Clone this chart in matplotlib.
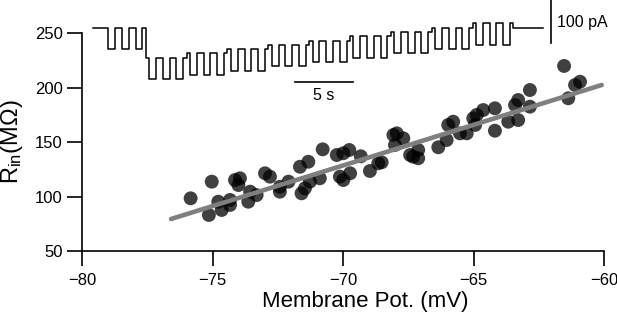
import numpy as np
import matplotlib
matplotlib.use("Agg")
import matplotlib.pyplot as plt

plt.rcParams['font.family'] = ['Liberation Sans', 'DejaVu Sans']
plt.rcParams['mathtext.fontset'] = 'custom'
plt.rcParams['mathtext.rm'] = 'Liberation Sans'
plt.rcParams['mathtext.it'] = 'Liberation Sans:italic'

# scatter: membrane potential (mV) vs input resistance (MOhm)
vm = [-75.85, -75.04, -75.15, -74.79, -74.66, -74.34, -74.34, -74.15, -73.96, -74.02,
      -73.64, -73.57, -73.32, -73.00, -72.81, -72.43, -72.43, -72.10, -71.66, -71.34,
      -71.60, -71.47, -71.28, -70.90, -70.79, -70.25, -70.00, -69.77, -70.13, -70.00,
      -69.74, -69.33, -68.98, -68.66, -68.53, -68.08, -67.95, -67.70, -68.02, -67.32,
      -67.13, -67.13, -67.44, -66.36, -66.04, -65.98, -65.79, -65.53, -65.27, -65.02,
      -64.95, -64.64, -64.89, -64.19, -64.19, -63.68, -63.42, -63.30, -63.30, -62.85,
      -62.85, -61.54, -61.38, -61.12, -60.93]
rin = [98.4, 113.7, 83.1, 95.3, 87.7, 96.9, 92.3, 115.2, 116.8, 110.6,
       95.3, 104.5, 101.4, 121.4, 118.3, 104.5, 109.0, 113.7, 127.4, 132.0,
       103.0, 107.6, 113.7, 116.8, 143.4, 138.2, 139.8, 142.8, 118.3, 115.2,
       121.4, 137.0, 123.5, 130.6, 131.5, 156.6, 158.1, 153.5, 147.4, 136.6,
       142.8, 135.2, 138.2, 145.3, 152.0, 165.8, 168.8, 158.1, 158.1, 171.9,
       165.8, 179.5, 175.0, 181.1, 160.5, 168.8, 184.1, 188.7, 170.3, 197.9,
       182.6, 220.0, 190.3, 202.5, 205.5]

# linear fit line end points
fit_x = [-76.6, -60.1]
fit_y = [79.4, 202.5]

# current injection protocol (pA): holding level per block, hyperpolarizing pulses
block_levels = [0, -70, -60, -50, -40, -30, -20, -10, 0, 10]
pulse_amp = -50
lead_s, block_s, tail_s = 1.0, 3.5, 2.5

fig = plt.figure(figsize=(6.17, 3.23), dpi=100)
ax = fig.add_axes([0.1334, 0.2229, 0.846, 0.674])

ax.scatter(vm, rin, s=100, color='black', alpha=0.75, edgecolors='none', zorder=2)
ax.plot(fit_x, fit_y, color='#7f7f7f', lw=3.3, solid_capstyle='round', zorder=3)

ax.set_xlim(-80, -60)
ax.set_ylim(50, 250)
ax.set_xticks([-80, -75, -70, -65, -60])
ax.set_yticks([50, 100, 150, 200, 250])
ax.set_xticklabels(['\u221280', '\u221275', '\u221270', '\u221265', '\u221260'])
for s in ['top', 'right']:
    ax.spines[s].set_visible(False)
for s in ['left', 'bottom']:
    ax.spines[s].set_linewidth(1.2)
ax.tick_params(direction='out', length=11, width=1.2, labelsize=12, pad=3)
ax.tick_params(axis='x', pad=5)
ax.set_xlabel('Membrane Pot. (mV)', fontsize=16, va='center')
ax.xaxis.set_label_coords(0.5416, -0.234)
ax.set_ylabel(r'R$_{\mathrm{in}}$(M$\Omega$)', fontsize=17, va='center')
ax.yaxis.set_label_coords(-0.135, 0.5)

# protocol trace inset
tax = fig.add_axes([80 / 617, 1 - 100 / 323, 537 / 617, 100 / 323])
tax.set_xlim(-1.14, 44.88)
tax.set_ylim(-168.5, 64.5)
tax.axis('off')

u = block_s / 6
seg_t = [lead_s]
seg_v = [block_levels[0]]
for lvl in block_levels:
    for d, off in [(0.5, 0), (1, pulse_amp), (1, 0), (1, pulse_amp), (1, 0), (1, pulse_amp), (0.5, 0)]:
        seg_t.append(d * u)
        seg_v.append(lvl + off)
seg_t.append(tail_s)
seg_v.append(0)
edges = np.concatenate([[0], np.cumsum(seg_t)])
vals = seg_v + [seg_v[-1]]
tax.step(edges, vals, where='post', color='black', lw=1.1)

# scale bars
tax.plot([39.2, 39.2], [-36, 64], color='black', lw=1.2)
tax.text(39.75, 12, '100 pA', fontsize=11.5, va='center', ha='left')
tax.plot([17.28, 22.28], [-125.8, -125.8], color='black', lw=1.2)
tax.text(19.78, -159, '5 s', fontsize=11.5, va='center', ha='center')

fig.savefig('out.png', dpi=100)
